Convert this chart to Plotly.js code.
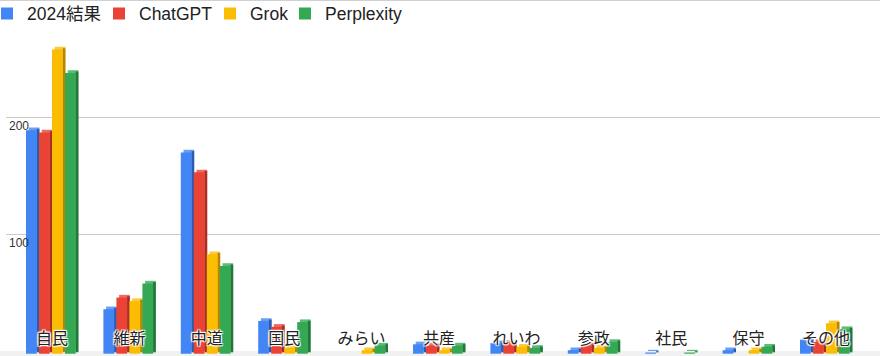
<!DOCTYPE html>
<html>
<head>
<meta charset="utf-8">
<script src="https://cdn.plot.ly/plotly-3.0.1.min.js"></script>
<style>html,body{margin:0;padding:0;background:#fff;}#chart{width:880px;height:356px;}</style>
</head>
<body>
<div id="chart"></div>
<script>
// ---- data ----
const categories = ['自民','維新','中道','国民','みらい','共産','れいわ','参政','社民','保守','その他'];
const seriesNames = ['2024結果','ChatGPT','Grok','Perplexity'];
const result2024 = [191, 38, 172, 28, 0, 8, 9, 3, 1, 3, 12];
const chatgpt    = [189, 48, 155, 23, 0, 7, 9, 7, 0, 0, 10];
const grok       = [260, 45, 85, 5, 3, 3, 6, 5, 0, 3, 26];
const perplexity = [240, 60, 75, 27, 7, 7, 5, 10, 1, 6, 21];
const yTicks = [100, 200];

// ---- style ----
const frontColors = ['#4285F4', '#EA4335', '#FBBC04', '#34A853'];
const topColors   = ['#6a9ff7', '#ee6b5f', '#fcca3a', '#5dba77'];
const sideColors  = ['#2d5cad', '#a62f26', '#b38603', '#247739'];
const seriesValues = [result2024, chatgpt, grok, perplexity];
const legendTextX = [25, 137, 248, 323];   // pixel where each legend label starts
const legendIds = ['legend', 'legend2', 'legend3', 'legend4'];

// geometry (pixels -> axis units)
const W = 880, H = 356, ML = 6, MR = 0, MT = 40, MB = 0;
const pxPerCat = 77.4, pxPerUnit = 1.17;
const PX = 1 / pxPerCat, PY = 1 / pxPerUnit;
const slot = 13, frontW = 10.7, dx = 2.7, dy = 2.7;
const groupStart = -26;
const plotW = W - ML - MR, plotH = H - MT - MB;
const xr0 = -(52 - ML) / pxPerCat;
const xr1 = xr0 + plotW / pxPerCat;
const yr0 = -(H - MB - 351) * PY;
const yr1 = yr0 + plotH * PY;

const traces = [];
seriesValues.forEach((vals, i) => {
  const x0 = (groupStart + slot * i) * PX;
  const w = frontW * PX;
  traces.push({
    type: 'bar', x: categories, y: vals, base: 0,
    offset: x0 + dx * PX, width: w,
    marker: {color: topColors[i], line: {width: 0}},
    showlegend: false, hoverinfo: 'skip'
  });
  traces.push({
    type: 'bar', x: categories, y: vals, base: -dy * PY / 2,
    offset: x0 + w, width: dx * PX,
    marker: {color: sideColors[i], line: {width: 0}},
    showlegend: false, hoverinfo: 'skip'
  });
  traces.push({
    type: 'bar', x: categories, y: vals, base: -dy * PY,
    offset: x0, width: w, name: seriesNames[i], legend: legendIds[i],
    marker: {color: frontColors[i], line: {width: 0}},
    showlegend: true
  });
});

const haloShadow = '1px 1px 1px #fff, -1px -1px 1px #fff, 1px -1px 1px #fff, -1px 1px 1px #fff, 0 0 2px #fff';
const legendFont = {size: 17.5, color: '#222', family: 'Arial, "Liberation Sans", "Noto Sans CJK JP", sans-serif'};

const layout = {
  width: W, height: H,
  margin: {l: ML, r: MR, t: MT, b: MB, pad: 0, autoexpand: false},
  paper_bgcolor: '#ffffff', plot_bgcolor: '#ffffff',
  barmode: 'overlay',
  font: {family: 'Arial, "Liberation Sans", "Noto Sans CJK JP", sans-serif', color: '#222'},
  showlegend: true,
  xaxis: {
    type: 'category', categoryorder: 'array', categoryarray: categories,
    range: [xr0, xr1], showgrid: false, zeroline: false, showline: false,
    ticks: '', ticklabelposition: 'inside', ticklabelstandoff: 6,
    tickfont: {size: 16, color: '#222', family: '"Noto Sans CJK JP", sans-serif', shadow: haloShadow},
    fixedrange: true
  },
  yaxis: {
    range: [yr0, yr1], tickvals: yTicks, ticktext: yTicks.map(String),
    showgrid: true, gridcolor: '#cccccc', gridwidth: 1,
    zeroline: true, zerolinecolor: '#333333', zerolinewidth: 1,
    showline: false, ticks: '', ticklabelposition: 'inside bottom',
    tickfont: {size: 12, color: '#333', family: 'Arial, "Liberation Sans", sans-serif'},
    fixedrange: true
  },
  shapes: [
    {type: 'rect', xref: 'paper', yref: 'y', x0: -ML / plotW, x1: 1, y0: yr0, y1: 0,
     fillcolor: '#f1f1f1', line: {width: 0}, layer: 'below'},
    {type: 'line', xref: 'paper', yref: 'paper', x0: -ML / plotW, x1: 1,
     y0: 1 + (MT - 0.5) / plotH, y1: 1 + (MT - 0.5) / plotH,
     line: {color: '#d0d0d0', width: 1}}
  ]
};

legendIds.forEach((id, i) => {
  layout[id] = {
    orientation: 'h', xref: 'paper', yref: 'paper',
    x: (legendTextX[i] - 38 - ML) / plotW, y: 1 + (MT + 4.5) / plotH,
    xanchor: 'left', yanchor: 'top',
    font: legendFont, bgcolor: 'rgba(0,0,0,0)'
  };
});

Plotly.newPlot('chart', traces, layout, {displayModeBar: false, staticPlot: true});
</script>
</body>
</html>
